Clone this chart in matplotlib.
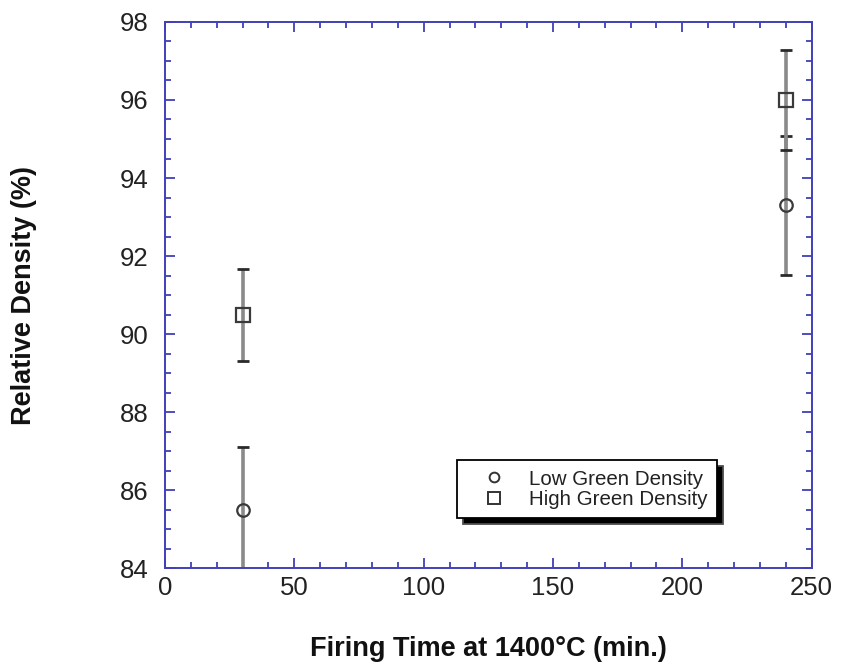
import matplotlib.pyplot as plt
from matplotlib.lines import Line2D
from matplotlib.ticker import MultipleLocator

plt.rcParams['font.family'] = ['Liberation Sans', 'DejaVu Sans']

# data
time_min = [30, 240]
low_density = [85.5, 93.3]
low_err = [1.6, 1.78]
high_density = [90.5, 96.0]
high_err = [1.18, 1.28]

legend_labels = ['Low Green Density', 'High Green Density']

frame_color = '#4040b8'

fig = plt.figure(figsize=(8.42, 6.66), dpi=100, facecolor='white')
ax = fig.add_axes([0.196, 0.147, 0.768, 0.820])

for y, err, marker, ms in [(low_density, low_err, 'o', 9), (high_density, high_err, 's', 9.5)]:
    eb = ax.errorbar(time_min, y, yerr=err, fmt='none', ecolor='#8a8a8a',
                     elinewidth=2.6, capsize=4, capthick=2, zorder=2)
    for cap in eb[1]:
        cap.set_markeredgecolor('#2a2a2a')
    ax.plot(time_min, y, linestyle='none', marker=marker, markersize=ms,
            markerfacecolor='none', markeredgecolor='#3a3a3a',
            markeredgewidth=1.6, zorder=3)

ax.set_xlim(0, 250)
ax.set_ylim(84, 98)
ax.xaxis.set_major_locator(MultipleLocator(50))
ax.xaxis.set_minor_locator(MultipleLocator(10))
ax.yaxis.set_major_locator(MultipleLocator(2))
ax.yaxis.set_minor_locator(MultipleLocator(0.5))

for sp in ax.spines.values():
    sp.set_color(frame_color)
    sp.set_linewidth(1.4)

ax.tick_params(which='both', direction='in', top=True, right=True,
               color=frame_color, width=1.3, labelsize=18.5, labelcolor='#222222')
ax.tick_params(which='major', length=7)
ax.tick_params(which='minor', length=4)
ax.tick_params(axis='x', which='major', pad=6)
ax.tick_params(axis='y', which='major', pad=12)

ax.set_xlabel('Firing Time at 1400°C (min.)', fontsize=19.5, fontweight='bold',
              color='#111111')
ax.set_ylabel('Relative Density (%)', fontsize=19.5, fontweight='bold',
              color='#111111')
ax.xaxis.set_label_coords(0.5, -0.125)
ax.yaxis.set_label_coords(-0.198, 0.5)

handles = [
    Line2D([], [], linestyle='none', marker='o', markersize=7,
           markerfacecolor='none', markeredgecolor='#333333', markeredgewidth=1.4),
    Line2D([], [], linestyle='none', marker='s', markersize=8,
           markerfacecolor='none', markeredgecolor='#333333', markeredgewidth=1.4),
]
leg = ax.legend(handles, legend_labels, loc='lower left',
                bbox_to_anchor=(0.452, 0.091), fontsize=14.8, frameon=True,
                fancybox=False, edgecolor='black', framealpha=1,
                shadow={'facecolor': 'black', 'alpha': 1, 'ox': 4, 'oy': -4},
                borderpad=0.45, borderaxespad=0, handletextpad=0.35,
                labelspacing=0.08, handlelength=2.7)
leg.get_frame().set_linewidth(1.3)
for t in leg.get_texts():
    t.set_color('#222222')

fig.savefig('out.png', dpi=100, facecolor='white')
